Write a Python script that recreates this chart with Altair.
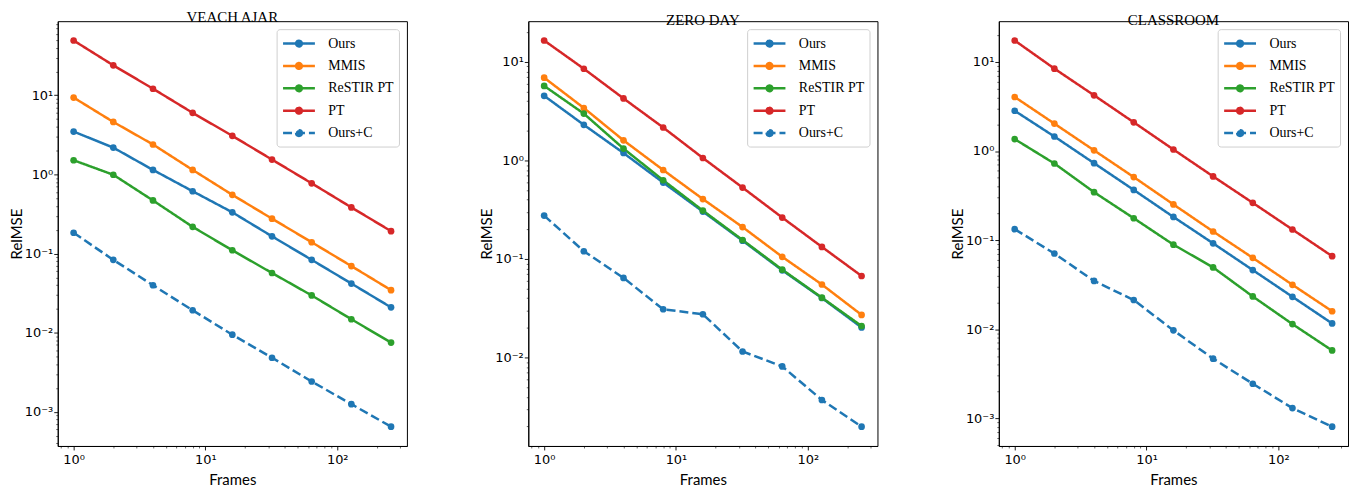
import altair as alt
import numpy as np
import pandas as pd

frames = [1, 2, 4, 8, 16, 32, 64, 128, 256]
series_names = ["Ours", "MMIS", "ReSTIR PT", "PT", "Ours+C"]
series_colors = ["#1f77b4", "#ff7f0e", "#2ca02c", "#d62728", "#1f77b4"]
series_dashes = [[1, 0], [1, 0], [1, 0], [1, 0], [9, 4]]

panel_titles = ["VEACH AJAR", "ZERO DAY", "CLASSROOM"]

# Veach Ajar
veach_ours = [3.48, 2.18, 1.14, 0.613, 0.332, 0.165, 0.0833, 0.0418, 0.0209]
veach_mmis = [9.35, 4.6, 2.39, 1.14, 0.552, 0.276, 0.139, 0.0695, 0.0345]
veach_restir = [1.51, 0.99, 0.469, 0.2175, 0.110, 0.0568, 0.0296, 0.0148, 0.0075]
veach_pt = [49.2, 23.9, 12.1, 6.0, 3.07, 1.54, 0.772, 0.383, 0.192]
veach_oursc = [0.183, 0.0833, 0.0398, 0.0192, 0.00944, 0.00483, 0.00242, 0.00125, 0.00065]

# Zero Day
zero_ours = [4.53, 2.30, 1.19, 0.597, 0.303, 0.1536, 0.0768, 0.0402, 0.0202]
zero_mmis = [6.92, 3.41, 1.60, 0.80, 0.406, 0.211, 0.1053, 0.0551, 0.0271]
zero_restir = [5.71, 2.99, 1.32, 0.63, 0.31, 0.156, 0.078, 0.0405, 0.0209]
zero_pt = [16.5, 8.53, 4.26, 2.16, 1.06, 0.531, 0.2635, 0.1327, 0.0673]
zero_oursc = [0.276, 0.120, 0.0643, 0.0309, 0.0275, 0.01153, 0.00814, 0.00371, 0.00199]

# Classroom
class_ours = [2.83, 1.455, 0.73, 0.366, 0.182, 0.092, 0.0461, 0.0231, 0.0116]
class_mmis = [4.04, 2.03, 1.017, 0.51, 0.2515, 0.125, 0.0632, 0.0315, 0.0159]
class_restir = [1.36, 0.724, 0.345, 0.176, 0.0889, 0.0494, 0.0233, 0.0114, 0.00577]
class_pt = [17.4, 8.41, 4.22, 2.10, 1.04, 0.519, 0.262, 0.1315, 0.066]
class_oursc = [0.1327, 0.0707, 0.0348, 0.02126, 0.0097, 0.00467, 0.00244, 0.0013, 0.000805]

panels = [
    [veach_ours, veach_mmis, veach_restir, veach_pt, veach_oursc],
    [zero_ours, zero_mmis, zero_restir, zero_pt, zero_oursc],
    [class_ours, class_mmis, class_restir, class_pt, class_oursc],
]

IS_MAJOR = "abs(log(datum.value)/LN10 - round(log(datum.value)/LN10)) < 1e-6"
LABEL_EXPR = (
    IS_MAJOR + " ? '10' + replace(replace(replace(replace(replace(replace("
    "toString(round(log(datum.value)/LN10)), '-', '\u207b'), '0', '\u2070'), '1', '\u00b9'),"
    " '2', '\u00b2'), '3', '\u00b3'), '4', '\u2074') : ''"
)

LEGEND_PATH = (
    "M-1,0L3,0"
    "M1.36,0A0.36,0.36,0,1,1,0.64,0A0.36,0.36,0,1,1,1.36,0"
    "M1.2,0A0.2,0.2,0,1,1,0.8,0A0.2,0.2,0,1,1,1.2,0"
    "M1.07,0A0.07,0.07,0,1,1,0.93,0A0.07,0.07,0,1,1,1.07,0"
)


def log_domain(values):
    lo, hi = np.log10(min(values)), np.log10(max(values))
    m = 0.05 * (hi - lo)
    return [10 ** (lo - m), 10 ** (hi + m)]


def log_ticks(domain):
    out = []
    for k in range(-6, 4):
        for m in range(1, 10):
            v = m * 10.0 ** k
            if domain[0] <= v <= domain[1]:
                out.append(float(f"{v:.10g}"))
    return out


def axis(title, values, label_pad, title_pad):
    return alt.Axis(
        title=title,
        values=values,
        grid=False,
        labelExpr=LABEL_EXPR,
        labelOverlap=False,
        labelFont="DejaVu Sans",
        labelFontSize=13,
        labelColor="black",
        labelPadding=label_pad,
        tickColor="black",
        tickSize={"condition": {"test": IS_MAJOR, "value": 4}, "value": 2},
        tickWidth={"condition": {"test": IS_MAJOR, "value": 0.9}, "value": 0.6},
        domainColor="black",
        titleFont="Lato",
        titleFontSize=15,
        titleFontWeight="normal",
        titleColor="black",
        titlePadding=title_pad,
    )


legend = alt.Legend(
    title=None,
    orient="top-right",
    offset=8,
    symbolType=LEGEND_PATH,
    symbolSize=256,
    symbolStrokeWidth=2.5,
    labelFont="Liberation Serif",
    labelFontSize=14,
    labelColor="black",
    labelOffset=28,
    rowPadding=4.5,
    padding=5,
    fillColor="rgba(255,255,255,0.8)",
    strokeColor="#cfcfcf",
    cornerRadius=3,
)

charts = []
for title, series_vals in zip(panel_titles, panels):
    rows = []
    for name, vals in zip(series_names, series_vals):
        for f, v in zip(frames, vals):
            rows.append({"series": name, "frames": f, "value": v})
    df = pd.DataFrame(rows)
    all_vals = [v for vals in series_vals for v in vals]
    ydom = log_domain(all_vals)
    xdom = log_domain(frames)
    x = alt.X("frames:Q", scale=alt.Scale(type="log", domain=xdom, nice=False),
              axis=axis("Frames", log_ticks(xdom), 4, 6))
    y = alt.Y("value:Q", scale=alt.Scale(type="log", domain=ydom, nice=False),
              axis=axis("RelMSE", log_ticks(ydom), 1, 0))
    color = alt.Color("series:N", scale=alt.Scale(domain=series_names, range=series_colors), legend=legend)
    base = alt.Chart(df)
    lines = base.mark_line(strokeWidth=2.5).encode(
        x=x, y=y, color=color,
        strokeDash=alt.StrokeDash("series:N", scale=alt.Scale(domain=series_names, range=series_dashes), legend=legend),
    )
    points = base.mark_point(filled=True, size=45, opacity=1).encode(x=x, y=y, color=color)
    chart = alt.layer(lines, points).properties(
        width=351, height=427,
        title=alt.Title(title, font="Liberation Serif", fontSize=15, fontWeight="normal", color="black", offset=-7),
    )
    charts.append(chart)

chart = alt.hconcat(*charts, spacing=122, bounds="flush").resolve_scale(
    color="independent", strokeDash="independent"
).resolve_legend(color="independent", strokeDash="independent").properties(
    padding={"left": 0, "top": 0, "right": 0, "bottom": 0}
).configure_view(stroke="black", strokeWidth=1)

chart.save("out.html", embed_options={"renderer": "svg", "actions": False})
